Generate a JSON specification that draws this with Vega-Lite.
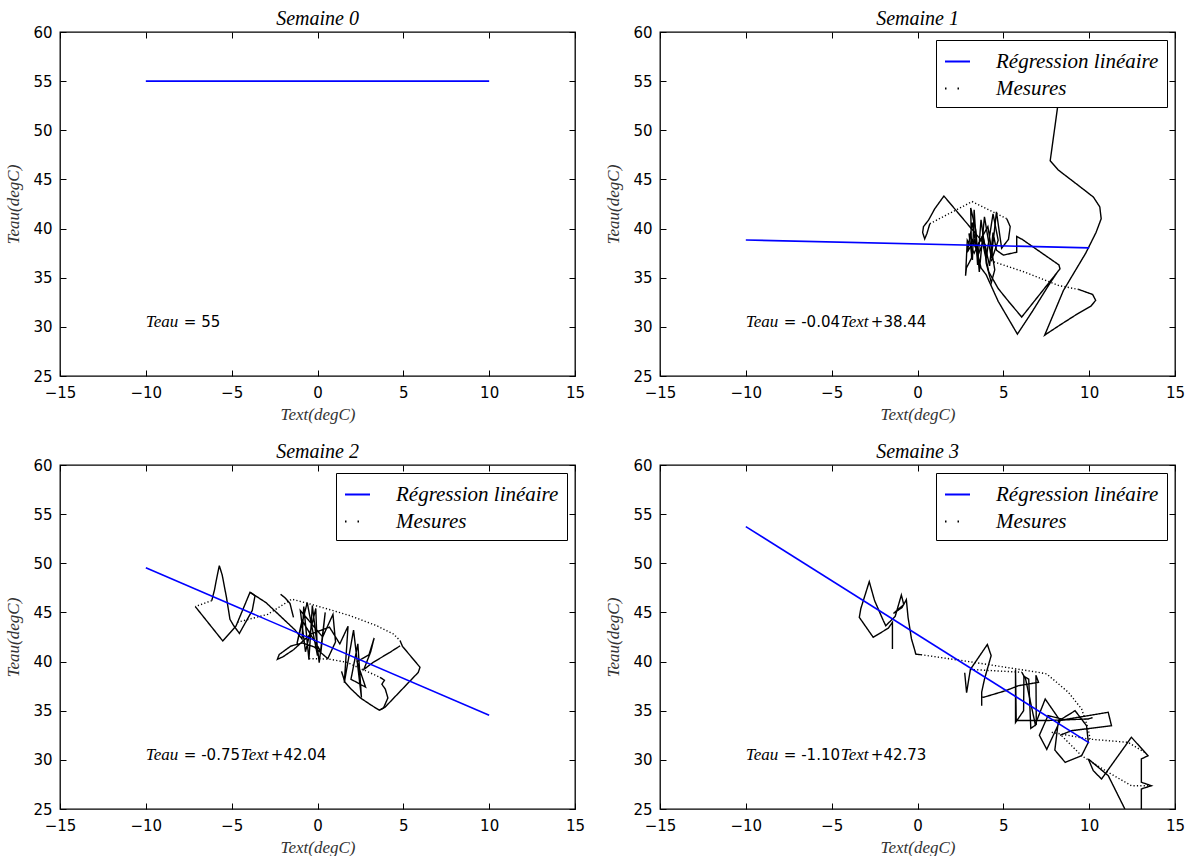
{
"$schema": "https://vega.github.io/schema/vega-lite/v6.json",
"background": "white",
"padding": {"left": 4, "top": 8, "right": 10, "bottom": 4},
"bounds": "flush",
"columns": 2,
"spacing": {"row": 89, "column": 85},
"config": {
 "view": {"stroke": "black", "strokeWidth": 1.3},
 "font": "DejaVu Sans",
 "axis": {"grid": false, "domain": false, "ticks": true, "tickColor": "black", "tickSize": -6, "tickWidth": 1, "labelFont": "DejaVu Sans", "labelFontSize": 15, "labelColor": "black", "labelFlush": false, "labelOverlap": false, "titleFont": "Liberation Serif", "titleFontStyle": "italic", "titleFontWeight": "normal", "titleFontSize": 17, "titleColor": "#333333"},
 "axisX": {"titlePadding": 6, "labelPadding": 15},
 "axisY": {"titlePadding": 10, "labelPadding": 14},
 "title": {"font": "Liberation Serif", "fontStyle": "italic", "fontWeight": "normal", "fontSize": 20, "color": "black", "offset": -4, "anchor": "middle"},
 "legend": {"orient": "top-right", "offset": 8, "strokeColor": "black", "fillColor": "white", "padding": 8, "cornerRadius": 0, "symbolType": "stroke", "symbolSize": 625, "symbolStrokeWidth": 1.8, "labelFont": "Liberation Serif", "labelFontStyle": "italic", "labelFontSize": 21, "labelColor": "black", "labelOffset": 25, "labelLimit": 400, "rowPadding": 3}
},
"datasets": {
 "regression": [
  {"semaine": 0, "text": -10, "teau": 55}, {"semaine": 0, "text": 10, "teau": 55},
  {"semaine": 1, "text": -10, "teau": 38.84}, {"semaine": 1, "text": 10, "teau": 38.04},
  {"semaine": 2, "text": -10, "teau": 49.54}, {"semaine": 2, "text": 10, "teau": 34.54},
  {"semaine": 3, "text": -10, "teau": 53.73}, {"semaine": 3, "text": 10, "teau": 31.73}
 ],
 "equations": [
  {"semaine": 0, "text": -10, "teau": 30, "terme1": "= 55", "terme2": ""},
  {"semaine": 1, "text": -10, "teau": 30, "terme1": "= -0.04", "terme2": "+38.44"},
  {"semaine": 2, "text": -10, "teau": 30, "terme1": "= -0.75", "terme2": "+42.04"},
  {"semaine": 3, "text": -10, "teau": 30, "terme1": "= -1.10", "terme2": "+42.73"}
 ],
 "s1": [
  {"troncon": 1, "nature": "mesure", "text": 8.2, "teau": 52.85},
  {"troncon": 1, "nature": "mesure", "text": 7.73, "teau": 46.9},
  {"troncon": 1, "nature": "mesure", "text": 8.2, "teau": 45.96},
  {"troncon": 1, "nature": "mesure", "text": 9.49, "teau": 44.23},
  {"troncon": 1, "nature": "mesure", "text": 10.25, "teau": 43.2},
  {"troncon": 1, "nature": "mesure", "text": 10.62, "teau": 42.2},
  {"troncon": 1, "nature": "mesure", "text": 10.7, "teau": 41.0},
  {"troncon": 1, "nature": "mesure", "text": 10.4, "teau": 39.6},
  {"troncon": 1, "nature": "mesure", "text": 9.8, "teau": 37.5},
  {"troncon": 1, "nature": "mesure", "text": 8.5, "teau": 33.7},
  {"troncon": 1, "nature": "mesure", "text": 7.41, "teau": 29.16},
  {"troncon": 1, "nature": "mesure", "text": 8.4, "teau": 30.3},
  {"troncon": 1, "nature": "mesure", "text": 9.3, "teau": 31.3},
  {"troncon": 1, "nature": "mesure", "text": 10.1, "teau": 32.1},
  {"troncon": 1, "nature": "mesure", "text": 10.38, "teau": 32.7},
  {"troncon": 1, "nature": "mesure", "text": 10.2, "teau": 33.3},
  {"troncon": 1, "nature": "mesure", "text": 9.4, "teau": 33.8},
  {"troncon": 2, "nature": "lacune", "text": 9.4, "teau": 33.8},
  {"troncon": 2, "nature": "lacune", "text": 8.24, "teau": 34.2},
  {"troncon": 2, "nature": "lacune", "text": 6.2, "teau": 35.6},
  {"troncon": 2, "nature": "lacune", "text": 4.3, "teau": 36.7},
  {"troncon": 3, "nature": "mesure", "text": 4.3, "teau": 36.7},
  {"troncon": 3, "nature": "mesure", "text": 4.7, "teau": 38.8},
  {"troncon": 3, "nature": "mesure", "text": 4.4, "teau": 41.5},
  {"troncon": 3, "nature": "mesure", "text": 4.0, "teau": 37.0},
  {"troncon": 3, "nature": "mesure", "text": 3.7, "teau": 40.9},
  {"troncon": 3, "nature": "mesure", "text": 3.5, "teau": 36.3},
  {"troncon": 3, "nature": "mesure", "text": 3.3, "teau": 41.9},
  {"troncon": 3, "nature": "mesure", "text": 3.2, "teau": 36.8},
  {"troncon": 3, "nature": "mesure", "text": 3.0, "teau": 39.5},
  {"troncon": 3, "nature": "mesure", "text": 3.4, "teau": 38.0},
  {"troncon": 3, "nature": "mesure", "text": 4.1, "teau": 40.2},
  {"troncon": 3, "nature": "mesure", "text": 4.5, "teau": 35.8},
  {"troncon": 3, "nature": "mesure", "text": 4.3, "teau": 34.5},
  {"troncon": 3, "nature": "mesure", "text": 4.0, "teau": 36.5},
  {"troncon": 3, "nature": "mesure", "text": 3.96, "teau": 38.3},
  {"troncon": 3, "nature": "mesure", "text": 2.7, "teau": 40.9},
  {"troncon": 3, "nature": "mesure", "text": 1.54, "teau": 43.31},
  {"troncon": 3, "nature": "mesure", "text": 1.0, "teau": 42.0},
  {"troncon": 3, "nature": "mesure", "text": 0.64, "teau": 40.85},
  {"troncon": 3, "nature": "mesure", "text": 0.35, "teau": 40.2},
  {"troncon": 3, "nature": "mesure", "text": 0.3, "teau": 39.6},
  {"troncon": 3, "nature": "mesure", "text": 0.42, "teau": 38.95},
  {"troncon": 3, "nature": "mesure", "text": 0.55, "teau": 39.5},
  {"troncon": 3, "nature": "mesure", "text": 0.72, "teau": 40.5},
  {"troncon": 4, "nature": "lacune", "text": 0.72, "teau": 40.5},
  {"troncon": 4, "nature": "lacune", "text": 3.18, "teau": 42.74},
  {"troncon": 4, "nature": "lacune", "text": 5.2, "teau": 41.0},
  {"troncon": 5, "nature": "mesure", "text": 5.2, "teau": 41.0},
  {"troncon": 5, "nature": "mesure", "text": 5.4, "teau": 40.2},
  {"troncon": 5, "nature": "mesure", "text": 5.3, "teau": 38.9},
  {"troncon": 5, "nature": "mesure", "text": 4.9, "teau": 38.0},
  {"troncon": 5, "nature": "mesure", "text": 4.6, "teau": 41.7},
  {"troncon": 5, "nature": "mesure", "text": 4.3, "teau": 37.0},
  {"troncon": 5, "nature": "mesure", "text": 3.9, "teau": 41.2},
  {"troncon": 5, "nature": "mesure", "text": 3.6, "teau": 35.6},
  {"troncon": 5, "nature": "mesure", "text": 3.4, "teau": 39.8},
  {"troncon": 5, "nature": "mesure", "text": 3.1, "teau": 42.1},
  {"troncon": 5, "nature": "mesure", "text": 3.15, "teau": 37.0},
  {"troncon": 5, "nature": "mesure", "text": 2.85, "teau": 36.0},
  {"troncon": 5, "nature": "mesure", "text": 2.8, "teau": 35.2},
  {"troncon": 5, "nature": "mesure", "text": 2.9, "teau": 38.8},
  {"troncon": 5, "nature": "mesure", "text": 3.3, "teau": 37.5},
  {"troncon": 5, "nature": "mesure", "text": 3.8, "teau": 39.3},
  {"troncon": 5, "nature": "mesure", "text": 4.2, "teau": 36.2},
  {"troncon": 5, "nature": "mesure", "text": 4.4, "teau": 39.6},
  {"troncon": 5, "nature": "mesure", "text": 4.6, "teau": 37.8},
  {"troncon": 5, "nature": "mesure", "text": 5.0, "teau": 37.3},
  {"troncon": 5, "nature": "mesure", "text": 5.78, "teau": 37.6},
  {"troncon": 5, "nature": "mesure", "text": 5.78, "teau": 39.2},
  {"troncon": 5, "nature": "mesure", "text": 6.1, "teau": 38.9},
  {"troncon": 5, "nature": "mesure", "text": 8.24, "teau": 36.3},
  {"troncon": 5, "nature": "mesure", "text": 8.3, "teau": 35.9},
  {"troncon": 5, "nature": "mesure", "text": 6.07, "teau": 31.0},
  {"troncon": 5, "nature": "mesure", "text": 5.3, "teau": 32.6},
  {"troncon": 5, "nature": "mesure", "text": 4.7, "teau": 33.9},
  {"troncon": 5, "nature": "mesure", "text": 4.15, "teau": 35.6},
  {"troncon": 5, "nature": "mesure", "text": 3.8, "teau": 38.5},
  {"troncon": 5, "nature": "mesure", "text": 3.5, "teau": 37.2},
  {"troncon": 5, "nature": "mesure", "text": 3.2, "teau": 40.6},
  {"troncon": 5, "nature": "mesure", "text": 2.9, "teau": 37.6},
  {"troncon": 5, "nature": "mesure", "text": 3.3, "teau": 38.8},
  {"troncon": 5, "nature": "mesure", "text": 3.7, "teau": 36.0},
  {"troncon": 5, "nature": "mesure", "text": 4.0, "teau": 35.3},
  {"troncon": 5, "nature": "mesure", "text": 4.7, "teau": 32.6},
  {"troncon": 5, "nature": "mesure", "text": 5.82, "teau": 29.26},
  {"troncon": 5, "nature": "mesure", "text": 6.7, "teau": 31.6},
  {"troncon": 5, "nature": "mesure", "text": 7.7, "teau": 34.4},
  {"troncon": 5, "nature": "mesure", "text": 8.2, "teau": 35.7}
 ],
 "s2": [
  {"troncon": 1, "nature": "mesure", "text": -7.12, "teau": 45.6},
  {"troncon": 1, "nature": "mesure", "text": -5.52, "teau": 42.1},
  {"troncon": 1, "nature": "mesure", "text": -4.75, "teau": 43.6},
  {"troncon": 1, "nature": "mesure", "text": -3.93, "teau": 47.05},
  {"troncon": 1, "nature": "mesure", "text": -3.64, "teau": 46.7},
  {"troncon": 1, "nature": "mesure", "text": -3.8, "teau": 45.2},
  {"troncon": 1, "nature": "mesure", "text": -4.55, "teau": 42.87},
  {"troncon": 1, "nature": "mesure", "text": -4.9, "teau": 43.7},
  {"troncon": 1, "nature": "mesure", "text": -5.1, "teau": 44.3},
  {"troncon": 1, "nature": "mesure", "text": -5.3, "teau": 46.5},
  {"troncon": 1, "nature": "mesure", "text": -5.55, "teau": 48.8},
  {"troncon": 1, "nature": "mesure", "text": -5.72, "teau": 49.76},
  {"troncon": 1, "nature": "mesure", "text": -5.87, "teau": 48.5},
  {"troncon": 1, "nature": "mesure", "text": -6.0, "teau": 47.3},
  {"troncon": 1, "nature": "mesure", "text": -6.16, "teau": 46.2},
  {"troncon": 2, "nature": "lacune", "text": -6.16, "teau": 46.2},
  {"troncon": 2, "nature": "lacune", "text": -7.12, "teau": 45.6},
  {"troncon": 3, "nature": "mesure", "text": -3.93, "teau": 47.05},
  {"troncon": 3, "nature": "mesure", "text": -3.0, "teau": 46.0},
  {"troncon": 3, "nature": "mesure", "text": -1.3, "teau": 43.2},
  {"troncon": 3, "nature": "mesure", "text": -0.9, "teau": 42.3},
  {"troncon": 3, "nature": "mesure", "text": -0.8, "teau": 45.6},
  {"troncon": 3, "nature": "mesure", "text": -0.5, "teau": 40.2},
  {"troncon": 3, "nature": "mesure", "text": -0.3, "teau": 45.7},
  {"troncon": 3, "nature": "mesure", "text": 0.1, "teau": 39.9},
  {"troncon": 3, "nature": "mesure", "text": 0.45, "teau": 45.0},
  {"troncon": 3, "nature": "mesure", "text": 0.2, "teau": 41.0},
  {"troncon": 3, "nature": "mesure", "text": -0.9, "teau": 44.2},
  {"troncon": 3, "nature": "mesure", "text": -1.2, "teau": 41.8},
  {"troncon": 3, "nature": "mesure", "text": -0.6, "teau": 46.0},
  {"troncon": 3, "nature": "mesure", "text": 0.0, "teau": 40.6},
  {"troncon": 3, "nature": "mesure", "text": -0.1, "teau": 45.4},
  {"troncon": 3, "nature": "mesure", "text": -0.7, "teau": 41.0},
  {"troncon": 3, "nature": "mesure", "text": -1.0, "teau": 45.2},
  {"troncon": 3, "nature": "mesure", "text": 0.3, "teau": 42.5},
  {"troncon": 3, "nature": "mesure", "text": 0.9, "teau": 44.8},
  {"troncon": 3, "nature": "mesure", "text": 1.05, "teau": 42.0},
  {"troncon": 3, "nature": "mesure", "text": 0.6, "teau": 40.3},
  {"troncon": 3, "nature": "mesure", "text": -0.2, "teau": 41.5},
  {"troncon": 3, "nature": "mesure", "text": -0.89, "teau": 41.9},
  {"troncon": 3, "nature": "mesure", "text": -1.56, "teau": 41.57},
  {"troncon": 3, "nature": "mesure", "text": -2.23, "teau": 40.72},
  {"troncon": 3, "nature": "mesure", "text": -2.34, "teau": 40.22},
  {"troncon": 3, "nature": "mesure", "text": -2.0, "teau": 40.5},
  {"troncon": 3, "nature": "mesure", "text": -1.4, "teau": 41.2},
  {"troncon": 3, "nature": "mesure", "text": -0.4, "teau": 42.8},
  {"troncon": 3, "nature": "mesure", "text": 0.7, "teau": 43.5},
  {"troncon": 3, "nature": "mesure", "text": 1.3, "teau": 41.8},
  {"troncon": 3, "nature": "mesure", "text": 1.78, "teau": 43.6},
  {"troncon": 3, "nature": "mesure", "text": 1.56, "teau": 37.85},
  {"troncon": 3, "nature": "mesure", "text": 2.1, "teau": 43.2},
  {"troncon": 3, "nature": "mesure", "text": 2.56, "teau": 36.33},
  {"troncon": 3, "nature": "mesure", "text": 2.35, "teau": 41.8},
  {"troncon": 3, "nature": "mesure", "text": 1.95, "teau": 38.2},
  {"troncon": 3, "nature": "mesure", "text": 2.8, "teau": 37.4},
  {"troncon": 3, "nature": "mesure", "text": 2.3, "teau": 40.0},
  {"troncon": 3, "nature": "mesure", "text": 3.0, "teau": 40.7},
  {"troncon": 3, "nature": "mesure", "text": 3.3, "teau": 42.4},
  {"troncon": 3, "nature": "mesure", "text": 3.1, "teau": 41.0},
  {"troncon": 3, "nature": "mesure", "text": 2.7, "teau": 39.2},
  {"troncon": 3, "nature": "mesure", "text": 3.25, "teau": 39.93},
  {"troncon": 3, "nature": "mesure", "text": 4.22, "teau": 40.94},
  {"troncon": 3, "nature": "mesure", "text": 4.81, "teau": 41.6},
  {"troncon": 4, "nature": "mesure", "text": -2.15, "teau": 46.85},
  {"troncon": 4, "nature": "mesure", "text": -1.9, "teau": 46.5},
  {"troncon": 4, "nature": "mesure", "text": -1.6, "teau": 45.9},
  {"troncon": 4, "nature": "mesure", "text": -1.4, "teau": 44.5},
  {"troncon": 5, "nature": "lacune", "text": -4.67, "teau": 44.0},
  {"troncon": 5, "nature": "lacune", "text": -2.9, "teau": 44.8},
  {"troncon": 5, "nature": "lacune", "text": -1.5, "teau": 46.35},
  {"troncon": 5, "nature": "lacune", "text": -0.44, "teau": 45.86},
  {"troncon": 5, "nature": "lacune", "text": 0.92, "teau": 45.18},
  {"troncon": 5, "nature": "lacune", "text": 1.89, "teau": 44.67},
  {"troncon": 5, "nature": "lacune", "text": 3.45, "teau": 43.65},
  {"troncon": 5, "nature": "lacune", "text": 4.42, "teau": 42.81},
  {"troncon": 5, "nature": "lacune", "text": 4.81, "teau": 42.13},
  {"troncon": 6, "nature": "mesure", "text": 4.81, "teau": 42.13},
  {"troncon": 6, "nature": "mesure", "text": 4.95, "teau": 41.55},
  {"troncon": 6, "nature": "mesure", "text": 5.97, "teau": 39.42},
  {"troncon": 6, "nature": "mesure", "text": 5.87, "teau": 38.9},
  {"troncon": 6, "nature": "mesure", "text": 3.93, "teau": 35.35},
  {"troncon": 6, "nature": "mesure", "text": 3.6, "teau": 35.05},
  {"troncon": 6, "nature": "mesure", "text": 3.1, "teau": 35.6},
  {"troncon": 6, "nature": "mesure", "text": 2.5, "teau": 36.3},
  {"troncon": 6, "nature": "mesure", "text": 1.9, "teau": 37.3},
  {"troncon": 6, "nature": "mesure", "text": 1.6, "teau": 37.9},
  {"troncon": 6, "nature": "mesure", "text": 1.4, "teau": 39.0},
  {"troncon": 7, "nature": "lacune", "text": -0.49, "teau": 40.3},
  {"troncon": 7, "nature": "lacune", "text": 0.63, "teau": 40.26},
  {"troncon": 7, "nature": "lacune", "text": 1.7, "teau": 39.93},
  {"troncon": 7, "nature": "lacune", "text": 3.64, "teau": 38.4},
  {"troncon": 8, "nature": "mesure", "text": 3.64, "teau": 38.4},
  {"troncon": 8, "nature": "mesure", "text": 3.9, "teau": 38.1},
  {"troncon": 8, "nature": "mesure", "text": 3.75, "teau": 37.7},
  {"troncon": 8, "nature": "mesure", "text": 3.95, "teau": 37.2},
  {"troncon": 8, "nature": "mesure", "text": 4.1, "teau": 36.3},
  {"troncon": 8, "nature": "mesure", "text": 3.85, "teau": 35.3},
  {"troncon": 8, "nature": "mesure", "text": 3.6, "teau": 35.05}
 ],
 "s3": [
  {"troncon": 1, "nature": "mesure", "text": -1.46, "teau": 41.27},
  {"troncon": 1, "nature": "mesure", "text": -1.46, "teau": 44.0},
  {"troncon": 1, "nature": "mesure", "text": -1.7, "teau": 43.4},
  {"troncon": 1, "nature": "mesure", "text": -2.58, "teau": 42.47},
  {"troncon": 1, "nature": "mesure", "text": -3.39, "teau": 44.5},
  {"troncon": 1, "nature": "mesure", "text": -3.3, "teau": 45.4},
  {"troncon": 1, "nature": "mesure", "text": -2.81, "teau": 48.13},
  {"troncon": 1, "nature": "mesure", "text": -2.5, "teau": 46.2},
  {"troncon": 1, "nature": "mesure", "text": -2.0, "teau": 44.2},
  {"troncon": 1, "nature": "mesure", "text": -1.85, "teau": 43.65},
  {"troncon": 1, "nature": "mesure", "text": -1.3, "teau": 44.6},
  {"troncon": 1, "nature": "mesure", "text": -0.94, "teau": 46.77},
  {"troncon": 1, "nature": "mesure", "text": -0.8, "teau": 45.8},
  {"troncon": 1, "nature": "mesure", "text": -1.4, "teau": 44.9},
  {"troncon": 1, "nature": "mesure", "text": -0.9, "teau": 45.5},
  {"troncon": 1, "nature": "mesure", "text": -0.65, "teau": 46.3},
  {"troncon": 1, "nature": "mesure", "text": -0.55, "teau": 44.5},
  {"troncon": 1, "nature": "mesure", "text": -0.35, "teau": 42.3},
  {"troncon": 1, "nature": "mesure", "text": -0.15, "teau": 41.1},
  {"troncon": 1, "nature": "mesure", "text": -0.1, "teau": 40.75},
  {"troncon": 1, "nature": "mesure", "text": 0.2, "teau": 40.7},
  {"troncon": 2, "nature": "lacune", "text": 0.2, "teau": 40.7},
  {"troncon": 2, "nature": "lacune", "text": 2.99, "teau": 40.0},
  {"troncon": 2, "nature": "lacune", "text": 7.05, "teau": 38.9},
  {"troncon": 2, "nature": "lacune", "text": 7.53, "teau": 38.74},
  {"troncon": 2, "nature": "lacune", "text": 8.79, "teau": 36.87},
  {"troncon": 2, "nature": "lacune", "text": 9.56, "teau": 35.18},
  {"troncon": 2, "nature": "lacune", "text": 9.95, "teau": 33.14},
  {"troncon": 2, "nature": "lacune", "text": 10.05, "teau": 32.12},
  {"troncon": 3, "nature": "mesure", "text": 2.75, "teau": 38.86},
  {"troncon": 3, "nature": "mesure", "text": 2.86, "teau": 36.83},
  {"troncon": 3, "nature": "mesure", "text": 3.08, "teau": 39.2},
  {"troncon": 3, "nature": "mesure", "text": 4.07, "teau": 41.74},
  {"troncon": 3, "nature": "mesure", "text": 4.29, "teau": 40.6},
  {"troncon": 3, "nature": "mesure", "text": 3.9, "teau": 38.2},
  {"troncon": 3, "nature": "mesure", "text": 3.74, "teau": 36.9},
  {"troncon": 3, "nature": "mesure", "text": 3.74, "teau": 35.5},
  {"troncon": 3, "nature": "mesure", "text": 3.74, "teau": 36.4},
  {"troncon": 3, "nature": "mesure", "text": 3.86, "teau": 36.37},
  {"troncon": 3, "nature": "mesure", "text": 5.12, "teau": 37.03},
  {"troncon": 3, "nature": "mesure", "text": 5.89, "teau": 37.55},
  {"troncon": 3, "nature": "mesure", "text": 7.05, "teau": 37.89},
  {"troncon": 3, "nature": "mesure", "text": 6.9, "teau": 38.6},
  {"troncon": 3, "nature": "mesure", "text": 6.92, "teau": 33.6},
  {"troncon": 3, "nature": "mesure", "text": 6.6, "teau": 33.2},
  {"troncon": 3, "nature": "mesure", "text": 6.48, "teau": 38.2},
  {"troncon": 3, "nature": "mesure", "text": 6.2, "teau": 38.5},
  {"troncon": 3, "nature": "mesure", "text": 6.18, "teau": 35.0},
  {"troncon": 3, "nature": "mesure", "text": 5.71, "teau": 33.8},
  {"troncon": 3, "nature": "mesure", "text": 5.71, "teau": 39.2},
  {"troncon": 3, "nature": "mesure", "text": 5.75, "teau": 34.0},
  {"troncon": 3, "nature": "mesure", "text": 7.5, "teau": 34.0},
  {"troncon": 3, "nature": "mesure", "text": 9.95, "teau": 34.16},
  {"troncon": 3, "nature": "mesure", "text": 10.2, "teau": 34.3},
  {"troncon": 4, "nature": "lacune", "text": 3.08, "teau": 39.2},
  {"troncon": 4, "nature": "lacune", "text": 6.08, "teau": 38.91},
  {"troncon": 5, "nature": "mesure", "text": 6.08, "teau": 38.91},
  {"troncon": 5, "nature": "mesure", "text": 6.3, "teau": 38.2},
  {"troncon": 5, "nature": "mesure", "text": 6.86, "teau": 33.61},
  {"troncon": 5, "nature": "mesure", "text": 7.44, "teau": 36.19},
  {"troncon": 5, "nature": "mesure", "text": 8.31, "teau": 33.99},
  {"troncon": 5, "nature": "mesure", "text": 7.53, "teau": 31.07},
  {"troncon": 5, "nature": "mesure", "text": 7.1, "teau": 32.5},
  {"troncon": 5, "nature": "mesure", "text": 7.6, "teau": 34.5},
  {"troncon": 5, "nature": "mesure", "text": 8.4, "teau": 34.16},
  {"troncon": 5, "nature": "mesure", "text": 9.18, "teau": 35.0},
  {"troncon": 5, "nature": "mesure", "text": 9.85, "teau": 33.47},
  {"troncon": 5, "nature": "mesure", "text": 9.95, "teau": 31.78},
  {"troncon": 5, "nature": "mesure", "text": 9.56, "teau": 30.42},
  {"troncon": 5, "nature": "mesure", "text": 8.6, "teau": 29.75},
  {"troncon": 5, "nature": "mesure", "text": 8.0, "teau": 31.0},
  {"troncon": 5, "nature": "mesure", "text": 8.21, "teau": 33.99},
  {"troncon": 5, "nature": "mesure", "text": 11.11, "teau": 34.84},
  {"troncon": 5, "nature": "mesure", "text": 11.3, "teau": 33.48},
  {"troncon": 5, "nature": "mesure", "text": 8.98, "teau": 32.97},
  {"troncon": 5, "nature": "mesure", "text": 8.3, "teau": 32.5},
  {"troncon": 6, "nature": "mesure", "text": 9.95, "teau": 30.09},
  {"troncon": 6, "nature": "mesure", "text": 10.24, "teau": 28.9},
  {"troncon": 6, "nature": "mesure", "text": 10.72, "teau": 28.05},
  {"troncon": 6, "nature": "mesure", "text": 12.46, "teau": 32.3},
  {"troncon": 6, "nature": "mesure", "text": 13.43, "teau": 30.42},
  {"troncon": 6, "nature": "mesure", "text": 13.04, "teau": 30.09},
  {"troncon": 6, "nature": "mesure", "text": 13.04, "teau": 27.72},
  {"troncon": 6, "nature": "mesure", "text": 13.62, "teau": 27.37},
  {"troncon": 6, "nature": "mesure", "text": 13.04, "teau": 27.04},
  {"troncon": 6, "nature": "mesure", "text": 13.04, "teau": 25.0},
  {"troncon": 7, "nature": "mesure", "text": 9.95, "teau": 30.09},
  {"troncon": 7, "nature": "mesure", "text": 11.11, "teau": 28.4},
  {"troncon": 7, "nature": "mesure", "text": 11.88, "teau": 25.7},
  {"troncon": 7, "nature": "mesure", "text": 12.08, "teau": 25.0},
  {"troncon": 8, "nature": "lacune", "text": 7.82, "teau": 32.8},
  {"troncon": 8, "nature": "lacune", "text": 9.95, "teau": 32.12},
  {"troncon": 8, "nature": "lacune", "text": 12.27, "teau": 31.78},
  {"troncon": 8, "nature": "lacune", "text": 13.24, "teau": 30.76},
  {"troncon": 9, "nature": "lacune", "text": 8.4, "teau": 32.45},
  {"troncon": 9, "nature": "lacune", "text": 9.56, "teau": 30.42},
  {"troncon": 9, "nature": "lacune", "text": 11.11, "teau": 28.73},
  {"troncon": 9, "nature": "lacune", "text": 12.46, "teau": 27.37},
  {"troncon": 9, "nature": "lacune", "text": 13.43, "teau": 27.37}
 ]
},
"resolve": {"scale": {"color": "independent", "strokeDash": "independent"}, "legend": {"color": "independent"}},
"concat": [
 {
  "width": 515, "height": 344,
  "title": "Semaine 0",
  "resolve": {"axis": {"x": "independent", "y": "independent"}},
  "layer": [
   {"data": {"name": "regression"}, "transform": [{"filter": "datum.semaine == 0"}],
    "mark": {"type": "line", "color": "#0000ff", "strokeWidth": 1.6},
    "encoding": {
     "x": {"field": "text", "type": "quantitative", "scale": {"domain": [-15, 15], "nice": false, "zero": false}, "axis": {"values": [-15, -10, -5, 0, 5, 10, 15], "title": "Text(degC)"}},
     "y": {"field": "teau", "type": "quantitative", "scale": {"domain": [25, 60], "nice": false, "zero": false}, "axis": {"values": [25, 30, 35, 40, 45, 50, 55, 60], "title": "Teau(degC)"}}
    }},
   {"data": {"name": "equations"}, "transform": [{"filter": "datum.semaine == 0"}],
    "mark": {"type": "text", "align": "left", "baseline": "alphabetic", "font": "Liberation Serif", "fontStyle": "italic", "fontSize": 17, "color": "black"},
    "encoding": {"x": {"field": "text", "type": "quantitative", "axis": null}, "y": {"field": "teau", "type": "quantitative", "axis": null}, "text": {"value": "Teau"}}},
   {"data": {"name": "equations"}, "transform": [{"filter": "datum.semaine == 0"}],
    "mark": {"type": "text", "align": "left", "baseline": "alphabetic", "font": "DejaVu Sans", "fontSize": 15, "color": "black", "dx": 38},
    "encoding": {"x": {"field": "text", "type": "quantitative", "axis": null}, "y": {"field": "teau", "type": "quantitative", "axis": null}, "text": {"field": "terme1"}}},
   {"data": {"name": "regression"}, "transform": [{"filter": "datum.semaine == 0"}],
    "mark": {"type": "point", "opacity": 0},
    "encoding": {
     "x": {"field": "text", "type": "quantitative", "axis": {"orient": "top", "values": [-15, -10, -5, 0, 5, 10, 15], "labels": false, "title": null}},
     "y": {"field": "teau", "type": "quantitative", "axis": {"orient": "right", "values": [25, 30, 35, 40, 45, 50, 55, 60], "labels": false, "title": null}}
    }}
  ]
 },
 {
  "width": 515, "height": 344,
  "title": "Semaine 1",
  "resolve": {"axis": {"x": "independent", "y": "independent"}},
  "layer": [
   {"data": {"name": "s1"},
    "mark": {"type": "line", "strokeWidth": 1.4, "clip": true},
    "encoding": {
     "x": {"field": "text", "type": "quantitative", "scale": {"domain": [-15, 15], "nice": false, "zero": false}, "axis": {"values": [-15, -10, -5, 0, 5, 10, 15], "title": "Text(degC)"}},
     "y": {"field": "teau", "type": "quantitative", "scale": {"domain": [25, 60], "nice": false, "zero": false}, "axis": {"values": [25, 30, 35, 40, 45, 50, 55, 60], "title": "Teau(degC)"}},
     "color": {"datum": "Mesures", "type": "nominal", "scale": {"domain": ["Régression linéaire", "Mesures"], "range": ["#0000ff", "#000000"]}, "legend": {"title": null, "encode": {"symbols": {"update": {"strokeDash": {"signal": "datum.label === 'Mesures' ? [1.5, 11] : [1, 0]"}}}}}},
     "strokeDash": {"field": "nature", "type": "nominal", "scale": {"domain": ["mesure", "lacune"], "range": [[1, 0], [1.2, 2.2]]}, "legend": null},
     "detail": {"field": "troncon", "type": "nominal"},
     "order": {"value": null}
    }},
   {"data": {"name": "regression"}, "transform": [{"filter": "datum.semaine == 1"}],
    "mark": {"type": "line", "strokeWidth": 1.6},
    "encoding": {
     "x": {"field": "text", "type": "quantitative", "axis": null},
     "y": {"field": "teau", "type": "quantitative", "axis": null},
     "color": {"datum": "Régression linéaire", "type": "nominal"}
    }},
   {"data": {"name": "equations"}, "transform": [{"filter": "datum.semaine == 1"}],
    "mark": {"type": "text", "align": "left", "baseline": "alphabetic", "font": "Liberation Serif", "fontStyle": "italic", "fontSize": 17, "color": "black"},
    "encoding": {"x": {"field": "text", "type": "quantitative", "axis": null}, "y": {"field": "teau", "type": "quantitative", "axis": null}, "text": {"value": "Teau"}}},
   {"data": {"name": "equations"}, "transform": [{"filter": "datum.semaine == 1"}],
    "mark": {"type": "text", "align": "left", "baseline": "alphabetic", "font": "DejaVu Sans", "fontSize": 15, "color": "black", "dx": 38},
    "encoding": {"x": {"field": "text", "type": "quantitative", "axis": null}, "y": {"field": "teau", "type": "quantitative", "axis": null}, "text": {"field": "terme1"}}},
   {"data": {"name": "equations"}, "transform": [{"filter": "datum.semaine == 1"}],
    "mark": {"type": "text", "align": "left", "baseline": "alphabetic", "font": "Liberation Serif", "fontStyle": "italic", "fontSize": 17, "color": "black", "dx": 95},
    "encoding": {"x": {"field": "text", "type": "quantitative", "axis": null}, "y": {"field": "teau", "type": "quantitative", "axis": null}, "text": {"value": "Text"}}},
   {"data": {"name": "equations"}, "transform": [{"filter": "datum.semaine == 1"}],
    "mark": {"type": "text", "align": "left", "baseline": "alphabetic", "font": "DejaVu Sans", "fontSize": 15, "color": "black", "dx": 125},
    "encoding": {"x": {"field": "text", "type": "quantitative", "axis": null}, "y": {"field": "teau", "type": "quantitative", "axis": null}, "text": {"field": "terme2"}}},
   {"data": {"name": "regression"}, "transform": [{"filter": "datum.semaine == 1"}],
    "mark": {"type": "point", "opacity": 0},
    "encoding": {
     "x": {"field": "text", "type": "quantitative", "axis": {"orient": "top", "values": [-15, -10, -5, 0, 5, 10, 15], "labels": false, "title": null}},
     "y": {"field": "teau", "type": "quantitative", "axis": {"orient": "right", "values": [25, 30, 35, 40, 45, 50, 55, 60], "labels": false, "title": null}}
    }}
  ]
 },
 {
  "width": 515, "height": 344,
  "title": "Semaine 2",
  "resolve": {"axis": {"x": "independent", "y": "independent"}},
  "layer": [
   {"data": {"name": "s2"},
    "mark": {"type": "line", "strokeWidth": 1.4, "clip": true},
    "encoding": {
     "x": {"field": "text", "type": "quantitative", "scale": {"domain": [-15, 15], "nice": false, "zero": false}, "axis": {"values": [-15, -10, -5, 0, 5, 10, 15], "title": "Text(degC)"}},
     "y": {"field": "teau", "type": "quantitative", "scale": {"domain": [25, 60], "nice": false, "zero": false}, "axis": {"values": [25, 30, 35, 40, 45, 50, 55, 60], "title": "Teau(degC)"}},
     "color": {"datum": "Mesures", "type": "nominal", "scale": {"domain": ["Régression linéaire", "Mesures"], "range": ["#0000ff", "#000000"]}, "legend": {"title": null, "encode": {"symbols": {"update": {"strokeDash": {"signal": "datum.label === 'Mesures' ? [1.5, 11] : [1, 0]"}}}}}},
     "strokeDash": {"field": "nature", "type": "nominal", "scale": {"domain": ["mesure", "lacune"], "range": [[1, 0], [1.2, 2.2]]}, "legend": null},
     "detail": {"field": "troncon", "type": "nominal"},
     "order": {"value": null}
    }},
   {"data": {"name": "regression"}, "transform": [{"filter": "datum.semaine == 2"}],
    "mark": {"type": "line", "strokeWidth": 1.6},
    "encoding": {
     "x": {"field": "text", "type": "quantitative", "axis": null},
     "y": {"field": "teau", "type": "quantitative", "axis": null},
     "color": {"datum": "Régression linéaire", "type": "nominal"}
    }},
   {"data": {"name": "equations"}, "transform": [{"filter": "datum.semaine == 2"}],
    "mark": {"type": "text", "align": "left", "baseline": "alphabetic", "font": "Liberation Serif", "fontStyle": "italic", "fontSize": 17, "color": "black"},
    "encoding": {"x": {"field": "text", "type": "quantitative", "axis": null}, "y": {"field": "teau", "type": "quantitative", "axis": null}, "text": {"value": "Teau"}}},
   {"data": {"name": "equations"}, "transform": [{"filter": "datum.semaine == 2"}],
    "mark": {"type": "text", "align": "left", "baseline": "alphabetic", "font": "DejaVu Sans", "fontSize": 15, "color": "black", "dx": 38},
    "encoding": {"x": {"field": "text", "type": "quantitative", "axis": null}, "y": {"field": "teau", "type": "quantitative", "axis": null}, "text": {"field": "terme1"}}},
   {"data": {"name": "equations"}, "transform": [{"filter": "datum.semaine == 2"}],
    "mark": {"type": "text", "align": "left", "baseline": "alphabetic", "font": "Liberation Serif", "fontStyle": "italic", "fontSize": 17, "color": "black", "dx": 95},
    "encoding": {"x": {"field": "text", "type": "quantitative", "axis": null}, "y": {"field": "teau", "type": "quantitative", "axis": null}, "text": {"value": "Text"}}},
   {"data": {"name": "equations"}, "transform": [{"filter": "datum.semaine == 2"}],
    "mark": {"type": "text", "align": "left", "baseline": "alphabetic", "font": "DejaVu Sans", "fontSize": 15, "color": "black", "dx": 125},
    "encoding": {"x": {"field": "text", "type": "quantitative", "axis": null}, "y": {"field": "teau", "type": "quantitative", "axis": null}, "text": {"field": "terme2"}}},
   {"data": {"name": "regression"}, "transform": [{"filter": "datum.semaine == 2"}],
    "mark": {"type": "point", "opacity": 0},
    "encoding": {
     "x": {"field": "text", "type": "quantitative", "axis": {"orient": "top", "values": [-15, -10, -5, 0, 5, 10, 15], "labels": false, "title": null}},
     "y": {"field": "teau", "type": "quantitative", "axis": {"orient": "right", "values": [25, 30, 35, 40, 45, 50, 55, 60], "labels": false, "title": null}}
    }}
  ]
 },
 {
  "width": 515, "height": 344,
  "title": "Semaine 3",
  "resolve": {"axis": {"x": "independent", "y": "independent"}},
  "layer": [
   {"data": {"name": "s3"},
    "mark": {"type": "line", "strokeWidth": 1.4, "clip": true},
    "encoding": {
     "x": {"field": "text", "type": "quantitative", "scale": {"domain": [-15, 15], "nice": false, "zero": false}, "axis": {"values": [-15, -10, -5, 0, 5, 10, 15], "title": "Text(degC)"}},
     "y": {"field": "teau", "type": "quantitative", "scale": {"domain": [25, 60], "nice": false, "zero": false}, "axis": {"values": [25, 30, 35, 40, 45, 50, 55, 60], "title": "Teau(degC)"}},
     "color": {"datum": "Mesures", "type": "nominal", "scale": {"domain": ["Régression linéaire", "Mesures"], "range": ["#0000ff", "#000000"]}, "legend": {"title": null, "encode": {"symbols": {"update": {"strokeDash": {"signal": "datum.label === 'Mesures' ? [1.5, 11] : [1, 0]"}}}}}},
     "strokeDash": {"field": "nature", "type": "nominal", "scale": {"domain": ["mesure", "lacune"], "range": [[1, 0], [1.2, 2.2]]}, "legend": null},
     "detail": {"field": "troncon", "type": "nominal"},
     "order": {"value": null}
    }},
   {"data": {"name": "regression"}, "transform": [{"filter": "datum.semaine == 3"}],
    "mark": {"type": "line", "strokeWidth": 1.6},
    "encoding": {
     "x": {"field": "text", "type": "quantitative", "axis": null},
     "y": {"field": "teau", "type": "quantitative", "axis": null},
     "color": {"datum": "Régression linéaire", "type": "nominal"}
    }},
   {"data": {"name": "equations"}, "transform": [{"filter": "datum.semaine == 3"}],
    "mark": {"type": "text", "align": "left", "baseline": "alphabetic", "font": "Liberation Serif", "fontStyle": "italic", "fontSize": 17, "color": "black"},
    "encoding": {"x": {"field": "text", "type": "quantitative", "axis": null}, "y": {"field": "teau", "type": "quantitative", "axis": null}, "text": {"value": "Teau"}}},
   {"data": {"name": "equations"}, "transform": [{"filter": "datum.semaine == 3"}],
    "mark": {"type": "text", "align": "left", "baseline": "alphabetic", "font": "DejaVu Sans", "fontSize": 15, "color": "black", "dx": 38},
    "encoding": {"x": {"field": "text", "type": "quantitative", "axis": null}, "y": {"field": "teau", "type": "quantitative", "axis": null}, "text": {"field": "terme1"}}},
   {"data": {"name": "equations"}, "transform": [{"filter": "datum.semaine == 3"}],
    "mark": {"type": "text", "align": "left", "baseline": "alphabetic", "font": "Liberation Serif", "fontStyle": "italic", "fontSize": 17, "color": "black", "dx": 95},
    "encoding": {"x": {"field": "text", "type": "quantitative", "axis": null}, "y": {"field": "teau", "type": "quantitative", "axis": null}, "text": {"value": "Text"}}},
   {"data": {"name": "equations"}, "transform": [{"filter": "datum.semaine == 3"}],
    "mark": {"type": "text", "align": "left", "baseline": "alphabetic", "font": "DejaVu Sans", "fontSize": 15, "color": "black", "dx": 125},
    "encoding": {"x": {"field": "text", "type": "quantitative", "axis": null}, "y": {"field": "teau", "type": "quantitative", "axis": null}, "text": {"field": "terme2"}}},
   {"data": {"name": "regression"}, "transform": [{"filter": "datum.semaine == 3"}],
    "mark": {"type": "point", "opacity": 0},
    "encoding": {
     "x": {"field": "text", "type": "quantitative", "axis": {"orient": "top", "values": [-15, -10, -5, 0, 5, 10, 15], "labels": false, "title": null}},
     "y": {"field": "teau", "type": "quantitative", "axis": {"orient": "right", "values": [25, 30, 35, 40, 45, 50, 55, 60], "labels": false, "title": null}}
    }}
  ]
 }
]
}
